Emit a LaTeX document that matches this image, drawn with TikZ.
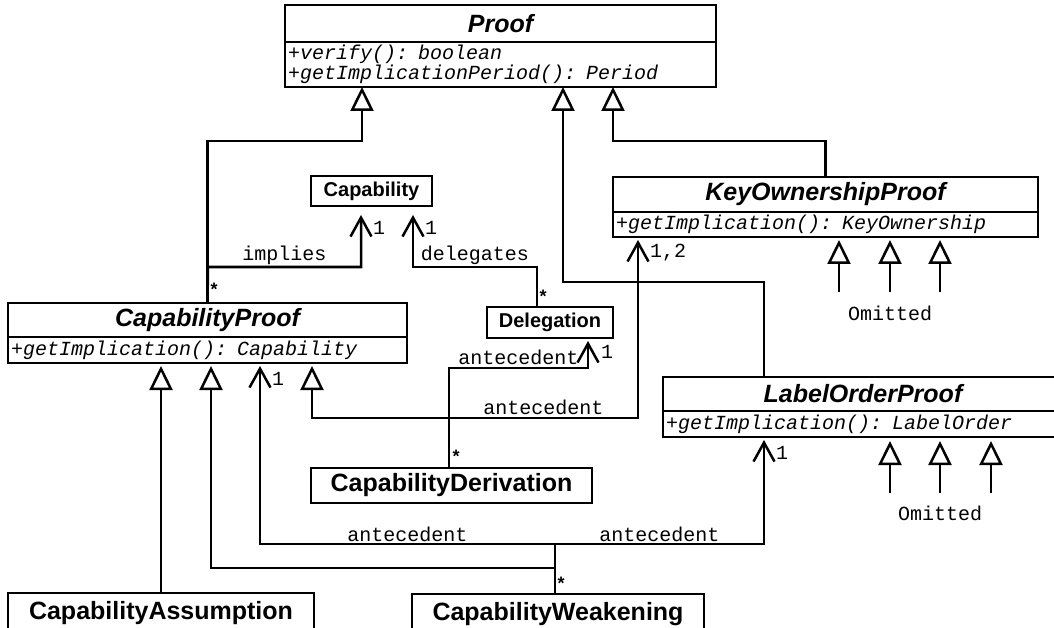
\documentclass[tikz,border=0pt]{standalone}
\usepackage{fontspec}
\setmainfont{Liberation Sans}
\setmonofont{Liberation Mono}
\usetikzlibrary{arrows.meta}

\tikzset{
  umlbox/.style={draw, line width=2.5pt, inner sep=0pt, outer sep=0pt, anchor=north west, fill=white},
  classname/.style={umlbox, font=\fontsize{25}{28}\selectfont\bfseries},
  abstractname/.style={umlbox, font=\fontsize{25}{28}\selectfont\bfseries\itshape},
  refname/.style={umlbox, font=\fontsize{20}{22}\selectfont\bfseries},
  members/.style={umlbox, inner xsep=3pt, align=left, font=\fontsize{20}{18}\selectfont\ttfamily\itshape},
  gen/.style={line width=2.5pt, -{Triangle[open, length=24pt, width=23pt]}},
  assoc/.style={line width=2.5pt, -{Straight Barb[length=19pt, width=21pt]}, shorten >=3pt},
  role/.style={font=\fontsize{20}{22}\selectfont\ttfamily, inner sep=1.5pt},
  mult/.style={font=\fontsize{20}{22}\selectfont\ttfamily, inner sep=0pt},
  many/.style={font=\fontsize{18}{20}\selectfont\bfseries, inner sep=0pt},
}

\begin{document}
\begin{tikzpicture}[x=1pt, y=-1pt]
\useasboundingbox (0,0) rectangle (1054,628);
\fill[white] (0,0) rectangle (1054,628);
\clip (0,0) rectangle (1054,628);

% Classes
\node[abstractname, minimum width=431pt, minimum height=37pt] (proof) at (285,5) {Proof};
\node[members, text width=425pt, minimum height=45pt] (proofM) at (proof.south west)
  {+verify(): boolean\\+getImplicationPeriod(): Period};

\node[refname, minimum width=121pt, minimum height=30pt] (capability) at (311,176) {Capability};
\node[refname, minimum width=126pt, minimum height=31pt] (delegation) at (487,307) {Delegation};

\node[abstractname, minimum width=399pt, minimum height=34pt] (capProof) at (8,303) {CapabilityProof};
\node[members, text width=393pt, minimum height=26pt] (capProofM) at (capProof.south west)
  {+getImplication(): Capability};

\node[abstractname, minimum width=425pt, minimum height=35pt] (keyProof) at (613,177) {KeyOwnershipProof};
\node[members, text width=419pt, minimum height=25pt] (keyProofM) at (keyProof.south west)
  {+getImplication(): KeyOwnership};

\node[abstractname, minimum width=400pt, minimum height=34pt] (labelProof) at (663,377) {LabelOrderProof};
\node[members, text width=394pt, minimum height=26pt] (labelProofM) at (labelProof.south west)
  {+getImplication(): LabelOrder};

\node[classname, minimum width=281pt, minimum height=35pt] (capDeriv) at (311,468) {CapabilityDerivation};
\node[classname, minimum width=306pt, minimum height=40pt] (capAssume) at (8,593) {CapabilityAssumption};
\node[classname, minimum width=292pt, minimum height=40pt] (capWeak) at (412,594) {CapabilityWeakening};

% Bends
\coordinate (cpUp) at (362,141);
\coordinate (kopUp) at (613,141);
\coordinate (lopA) at (764,282);
\coordinate (lopB) at (563,282);
\coordinate (impl) at (208,267);
\coordinate (implUp) at (361,267);
\coordinate (delA) at (537,267);
\coordinate (delB) at (413,267);
\coordinate (cdA) at (449,368);
\coordinate (cdB) at (588,368);
\coordinate (cdC) at (449,418);
\coordinate (cdD) at (312,418);
\coordinate (cdE) at (638,418);
\coordinate (cwA) at (555,568);
\coordinate (cwB) at (211,568);
\coordinate (cwC) at (555,544);
\coordinate (cwD) at (260,544);
\coordinate (cwE) at (764,544);

% Generalisations
\draw[gen] (capProof.north) |- (cpUp) -- (cpUp |- proofM.south);
\draw[gen] (keyProof.north) |- (kopUp) -- (kopUp |- proofM.south);
\draw[gen] (labelProof.north -| lopA) -- (lopA) -- (lopB) -- (lopB |- proofM.south);
\draw[gen, shorten >=3pt] (capAssume.north) -- (capAssume.north |- capProofM.south);
\draw[gen, shorten >=3pt] (capWeak.north -| cwA) -- (cwA) -- (cwB) -- (cwB |- capProofM.south);
\draw[gen, shorten >=3pt] (capDeriv.north -| cdC) -- (cdC) -- (cdD) -- (cdD |- capProofM.south);

% Associations
\draw[assoc, shorten >=9pt] (capProof.north) -- (impl) -- node[role, above] {implies} (implUp) -- (implUp |- capability.south);
\draw[assoc, shorten >=9pt] (delegation.north -| delA) -- (delA) -- node[role, above] {delegates} (delB) -- (delB |- capability.south);
\draw[assoc] (capDeriv.north -| cdA) -- (cdA) -- node[role, above] {antecedent} (cdB) -- (cdB |- delegation.south);
\draw[assoc] (capDeriv.north -| cdC) -- (cdC) -- node[role, above] {antecedent} (cdE) -- (cdE |- keyProofM.south);
\draw[assoc] (capWeak.north -| cwC) -- (cwC) -- node[role, above] {antecedent} (cwD) -- (cwD |- capProofM.south);
\draw[assoc] (capWeak.north -| cwC) -- (cwC) -- node[role, above] {antecedent} (cwE) -- (cwE |- labelProofM.south);

% Omitted subclasses
\foreach \x [count=\i] in {839,890,940} {
  \coordinate (kopSub\i) at (\x,292);
  \draw[gen, shorten >=3pt] (kopSub\i) -- (kopSub\i |- keyProofM.south);
}
\foreach \x [count=\i] in {890,940,991} {
  \coordinate (lopSub\i) at (\x,493);
  \draw[gen, shorten >=4pt] (lopSub\i) -- (lopSub\i |- labelProofM.south);
}
\node[mult] (omitK) at (890,313) {Omitted};
\node[mult] (omitL) at (940,513) {Omitted};

% Multiplicities
\node[many] (m1) at (214,289) {*};
\node[mult] (m2) at (379,228) {1};
\node[mult] (m3) at (431,228) {1};
\node[many] (m4) at (543,296) {*};
\node[mult] (m5) at (607,352) {1};
\node[many] (m6) at (456,456) {*};
\node[mult] (m7) at (668,253) {1,2};
\node[mult] (m8) at (278,379) {1};
\node[many] (m9) at (561,583) {*};
\node[mult] (m10) at (782,453) {1};
\end{tikzpicture}
\end{document}
